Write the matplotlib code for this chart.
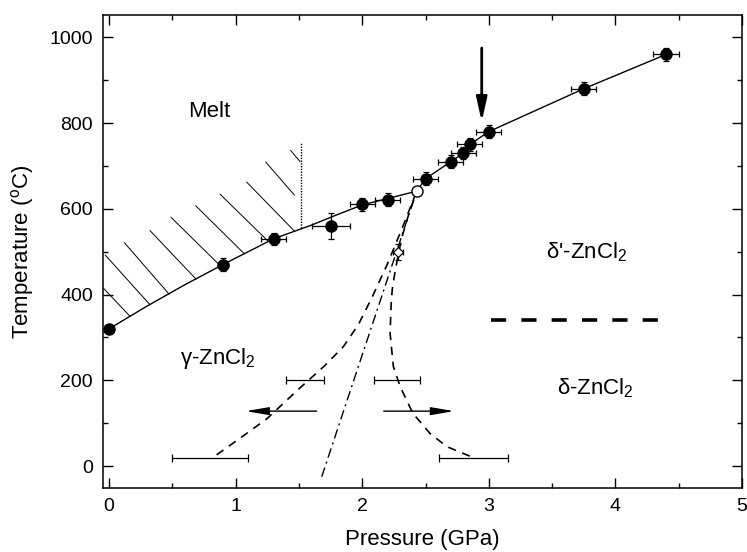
import matplotlib
matplotlib.use('Agg')
import matplotlib.pyplot as plt
from matplotlib.ticker import MultipleLocator

# 字体设置（Helvetica 风格）
plt.rcParams['font.family'] = ['Liberation Sans', 'DejaVu Sans']
plt.rcParams['mathtext.fontset'] = 'custom'
plt.rcParams['mathtext.rm'] = 'Liberation Sans'
plt.rcParams['mathtext.it'] = 'Liberation Sans:italic'
plt.rcParams['mathtext.bf'] = 'Liberation Sans:bold'

# 熔点数据（实心圆点）
pts_p = [0.0, 0.9, 1.3, 1.75, 2.0, 2.2, 2.5, 2.7, 2.8, 2.85, 3.0, 3.75, 4.4]
pts_t = [320, 470, 530, 560, 610, 621, 670, 710, 730, 750, 780, 880, 960]
pts_perr = [0.0, 0.04, 0.10, 0.15, 0.10, 0.10, 0.10, 0.10, 0.10, 0.10, 0.10, 0.10, 0.10]
pts_terr = [0, 15, 14, 30, 14, 15, 15, 15, 15, 15, 15, 15, 15]

# 三相点（空心圆）和菱形点
triple_p, triple_t = 2.43, 641
diamond_p, diamond_t = 2.28, 500
diamond_perr, diamond_terr = 0.04, 19

# 熔化曲线（实线）
melt_p = [0.0, 0.3, 0.6, 0.9, 1.3, 1.6, 1.8, 2.0, 2.2, 2.43, 2.5, 2.7, 2.8, 2.85, 3.0, 3.75, 4.4]
melt_t = [320, 373, 423, 470, 530, 562, 586, 609, 624, 641, 670, 710, 730, 750, 780, 880, 960]

# 相边界（虚线）
left_p = [0.85, 1.05, 1.25, 1.50, 1.70, 1.85, 1.97, 2.08, 2.20, 2.32, 2.43]
left_t = [26, 68, 111, 180, 233, 278, 330, 395, 472, 558, 641]
right_p = [2.85, 2.67, 2.535, 2.40, 2.30, 2.246, 2.22, 2.23, 2.24, 2.27, 2.31, 2.37, 2.43]
right_t = [23, 45, 76, 123, 185, 232, 310, 387, 420, 470, 530, 590, 641]
mid_p = [1.68, 2.43]
mid_t = [-25, 641]

# 相变压力区间（水平误差棒）
trans_p = [1.55, 2.275, 0.80, 2.88]
trans_t = [200, 200, 18, 18]
trans_perr = [0.15, 0.185, 0.30, 0.27]

# δ / δ' 分界（粗虚线）
dd_p = [3.02, 4.34]
dd_t = [341, 341]

# 阴影线段（底端在熔化曲线上）
hatch_p0 = [0.166, 0.324, 0.474, 0.687, 0.879, 1.069, 1.258, 1.461, 1.464, 1.509]
hatch_t0 = [349, 376, 401, 436, 467, 495, 524, 549, 632, 710]
hatch_p1 = [-0.045, -0.03, 0.121, 0.324, 0.490, 0.685, 0.877, 1.088, 1.238, 1.435]
hatch_t1 = [415, 492, 521, 549, 580, 607, 634, 662, 709, 736]

# 竖直点线
dot_p = [1.514, 1.514]
dot_t = [556, 755]

fig = plt.figure(figsize=(7.47, 5.52), dpi=100)
ax = fig.add_axes([0.1375, 0.1154, 0.8558, 0.8574])

# 阴影线
for p0, t0, p1, t1 in zip(hatch_p0, hatch_t0, hatch_p1, hatch_t1):
    ax.plot([p0, p1], [t0, t1], color='k', lw=0.7)
ax.plot(dot_p, dot_t, color='k', lw=1.0, ls=(0, (1, 1)))

# 熔化曲线
ax.plot(melt_p, melt_t, color='k', lw=1.0)

# 相边界
ax.plot(left_p, left_t, color='k', lw=1.2, dashes=(5, 4))
ax.plot(right_p, right_t, color='k', lw=1.2, dashes=(5, 4))
ax.plot(mid_p, mid_t, color='k', lw=1.0, dashes=(7, 3, 1.5, 3))
ax.plot(dd_p, dd_t, color='k', lw=2.6, dashes=(4.2, 4.2), dash_capstyle='butt')

# 误差棒
ax.errorbar(trans_p, trans_t, xerr=trans_perr, fmt='none', ecolor='k', elinewidth=0.9,
            capsize=3, capthick=0.9)
ax.errorbar(pts_p, pts_t, xerr=pts_perr, yerr=pts_terr, fmt='o', color='k', ms=8,
            ecolor='k', elinewidth=0.9, capsize=2.5, capthick=0.9, zorder=5)
ax.errorbar([diamond_p], [diamond_t], xerr=[diamond_perr], yerr=[diamond_terr], fmt='D',
            mfc='white', mec='k', ms=5, mew=0.9, ecolor='k', elinewidth=0.9, capsize=2.5,
            capthick=0.9, zorder=5)
ax.plot([triple_p], [triple_t], 'o', mfc='white', mec='k', ms=8, mew=1.0, zorder=6)

# 箭头
head = '-|>,head_length=0.7,head_width=0.12'
ax.annotate('', xy=(1.08, 128), xytext=(1.64, 128),
            arrowprops=dict(arrowstyle=head, lw=1.0, color='k', mutation_scale=20,
                            shrinkA=0, shrinkB=0))
ax.annotate('', xy=(2.725, 128), xytext=(2.17, 128),
            arrowprops=dict(arrowstyle=head, lw=1.0, color='k', mutation_scale=20,
                            shrinkA=0, shrinkB=0))
ax.annotate('', xy=(2.944, 803), xytext=(2.944, 975),
            arrowprops=dict(arrowstyle='-|>,head_length=0.72,head_width=0.16', lw=2.0,
                            color='k', mutation_scale=20, shrinkA=0, shrinkB=0))

# 相区标注
ax.text(0.626, 815, 'Melt', fontsize=16)
ax.text(0.56, 237, 'γ-ZnCl$_2$', fontsize=16)
ax.text(3.45, 485, "δ'-ZnCl$_2$", fontsize=16)
ax.text(3.536, 167, 'δ-ZnCl$_2$', fontsize=16)

# 坐标轴
ax.set_xlim(-0.05, 5.0)
ax.set_ylim(-52, 1052)
ax.xaxis.set_major_locator(MultipleLocator(1))
ax.xaxis.set_minor_locator(MultipleLocator(0.5))
ax.yaxis.set_major_locator(MultipleLocator(200))
ax.yaxis.set_minor_locator(MultipleLocator(100))
ax.tick_params(which='both', direction='in', top=True, right=True, width=1.0,
               labelsize=14)
ax.tick_params(which='major', length=7, pad=7)
ax.tick_params(which='minor', length=3.8)
for s in ax.spines.values():
    s.set_linewidth(1.1)

ax.set_xlabel('Pressure (GPa)', fontsize=16, labelpad=10)
ax.set_ylabel('Temperature ($^{\\mathrm{o}}$C)', fontsize=16, labelpad=10)

fig.savefig('out.png', dpi=100)
